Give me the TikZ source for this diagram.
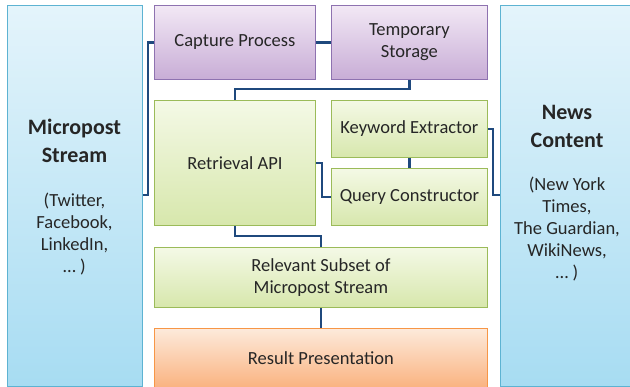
\documentclass[tikz,border=0pt]{standalone}
\usepackage{fontspec}
\setmainfont{Carlito}
\usetikzlibrary{shadows}
\definecolor{conn}{HTML}{1F497D}
\definecolor{txt}{HTML}{262626}
\definecolor{bluetop}{HTML}{E4F4FB}
\definecolor{bluebot}{HTML}{A7DCF2}
\definecolor{blueline}{HTML}{5DB3D2}
\definecolor{purptop}{HTML}{F2E8F5}
\definecolor{purpbot}{HTML}{C8ADD6}
\definecolor{purpline}{HTML}{8E72B0}
\definecolor{greentop}{HTML}{F4F9E6}
\definecolor{greenbot}{HTML}{D7E7AC}
\definecolor{greenline}{HTML}{9BBB59}
\definecolor{orangetop}{HTML}{FDEADB}
\definecolor{orangebot}{HTML}{FAB27F}
\definecolor{orangeline}{HTML}{F79646}
\tikzset{
  box/.style={draw, line width=0.8pt, inner sep=0pt, anchor=north west,
    drop shadow={shadow xshift=1pt, shadow yshift=-1pt, opacity=0.25}},
  bluebox/.style={box, draw=blueline, top color=bluetop, bottom color=bluebot},
  purpbox/.style={box, draw=purpline, top color=purptop, bottom color=purpbot},
  greenbox/.style={box, draw=greenline, top color=greentop, bottom color=greenbot},
  orangebox/.style={box, draw=orangeline, top color=orangetop, bottom color=orangebot},
  lbl/.style={text=txt, align=center, font=\fontsize{18.5}{22}\selectfont},
  title/.style={text=txt, align=center, font=\bfseries\fontsize{22}{28}\selectfont},
  link/.style={draw=conn, line width=2.6pt}
}
\begin{document}
\begin{tikzpicture}[x=1pt,y=-1pt]
\useasboundingbox (0,0) rectangle (630,387);
\clip (0,0) rectangle (630,387);
% Quellen links und rechts
\node[bluebox, minimum width=135pt, minimum height=381pt] (micro) at (7,5) {};
\node[bluebox, minimum width=136pt, minimum height=381pt] (news) at (500,5) {};
\node[title] (microtitle) at (74.5,141) {Micropost\\Stream};
\node[lbl] (microsrc) at (74.5,234) {(Twitter,\\Facebook,\\LinkedIn,\\… )};
\node[title] (newstitle) at (567,126) {News\\Content};
\node[lbl] (newssrc) at (567,229) {(New York\\Times,\\The Guardian,\\WikiNews,\\… )};
% Verarbeitung
\node[purpbox, minimum width=161pt, minimum height=74pt, lbl] (capture) at (154,5) {Capture Process};
\node[purpbox, minimum width=156pt, minimum height=74pt, lbl] (storage) at (331,5) {Temporary\\Storage};
\node[greenbox, minimum width=161pt, minimum height=125pt, lbl] (retrieval) at (154,100) {Retrieval API};
\node[greenbox, minimum width=156pt, minimum height=57pt, lbl] (keyword) at (331,100) {Keyword Extractor};
\node[greenbox, minimum width=156pt, minimum height=57pt, lbl] (query) at (331,168) {Query Constructor};
\node[greenbox, minimum width=333pt, minimum height=60pt, lbl] (subset) at (154,247) {Relevant Subset of\\Micropost Stream};
\node[orangebox, minimum width=333pt, minimum height=60pt, lbl] (result) at (154,328) {Result Presentation};
% Verbindungen
\coordinate (c1) at (148,0);
\coordinate (c2) at (0,89);
\coordinate (c3) at (322,0);
\coordinate (c4) at (493,0);
\coordinate (c5) at (0,236);
\draw[link] (micro.east |- 0,195) -| (c1 |- capture.west) -- (capture.west);
\draw[link] (capture.east) -- (capture.east -| storage.west);
\draw[link] (storage.south) |- (c2 -| retrieval.north) -- (retrieval.north);
\draw[link] (retrieval.east |- 0,163) -| (c3 |- query.west) -- (query.west);
\draw[link] (keyword.south) -- (query.north);
\draw[link] (keyword.east) -| (c4 |- 0,195) -- (news.west |- 0,195);
\draw[link] (retrieval.south) |- (c5 -| subset.north) -- (subset.north);
\draw[link] (subset.south) -- (result.north);
\end{tikzpicture}
\end{document}
